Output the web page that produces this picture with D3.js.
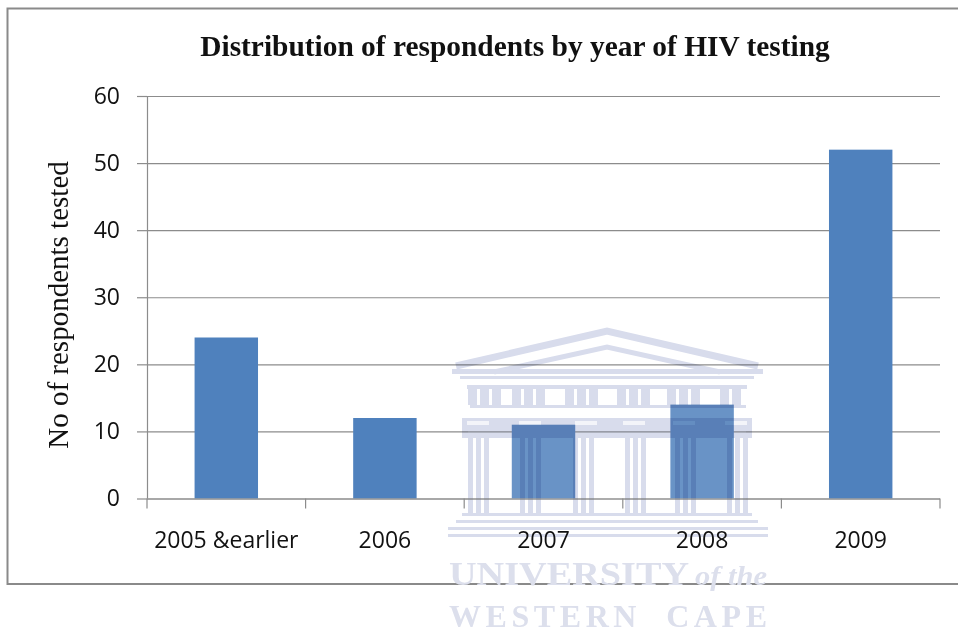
<!DOCTYPE html>
<html><head><meta charset="utf-8">
<script src="https://cdn.jsdelivr.net/npm/d3@7"></script>
<style>html,body{margin:0;background:#fff}svg{display:block}</style></head>
<body><svg id="c" width="958" height="633"></svg>
<script>
const categories = ["2005 &earlier","2006","2007","2008","2009"];
const values = [24,12,11,14,52];
const yTicks = [0,10,20,30,40,50,60];
const titleText = "Distribution of respondents by year of HIV testing";
const yTitle = "No of respondents tested";

const svg = d3.select("#c");
const L=147,R=940,T=96,B=498.5;
const x = d3.scaleBand().domain(categories).range([L,R]).paddingInner(0.6).paddingOuter(0.3);
const y = d3.scaleLinear().domain([0,60]).range([B,T]);
const gray="#8c8c8c", sans="'Open Sans',sans-serif", serif="'Liberation Serif',serif";

// frame
svg.append("path").attr("d","M958,8.5H7.5V584H958").attr("fill","none").attr("stroke","#8a8a8a").attr("stroke-width",2);

// axes
const gy = svg.append("g").attr("transform",`translate(${L},0)`)
  .call(d3.axisLeft(y).tickValues(yTicks).tickSize(10).tickPadding(17));
gy.selectAll("path").attr("stroke",gray).attr("stroke-width",1.2).attr("d",`M0.5,${T}V${B}`);
gy.selectAll("line").attr("stroke",gray).attr("stroke-width",1.2);
gy.selectAll(".tick").append("line").attr("x1",0).attr("x2",R-L).attr("stroke",gray).attr("stroke-width",1.2);
gy.selectAll("text").attr("fill","#111").style("font",`23px ${sans}`);

svg.append("g").selectAll("rect").data(values).join("rect")
  .attr("x",(d,i)=>x(categories[i])).attr("width",x.bandwidth())
  .attr("y",d=>y(d)).attr("height",d=>y(0)-y(d)).attr("fill","#4f81bd");

// watermark
const wm = svg.append("g");
const lav="#d8dcec";
const mult = wm.append("g").style("mix-blend-mode","multiply");
wm.insert("rect",":first-child").attr("x",468).attr("y",392).attr("width",278).attr("height",108).attr("fill","#fff").attr("opacity",0.15);
const rect=(a,b,w,h,f=lav)=>mult.append("rect").attr("x",a).attr("y",b).attr("width",w).attr("height",h).attr("fill",f);
mult.append("path").attr("d","M456,366L607,331L758,366").attr("fill","none").attr("stroke",lav).attr("stroke-width",7);
mult.append("path").attr("d","M494,372L607,347L720,372").attr("fill","none").attr("stroke",lav).attr("stroke-width",5);
rect(452,369,311,5); rect(460,376,294,3); rect(467,385,280,4);
// frieze
[[468,3],[512,3],[565,3],[617,3],[667,3],[720,2]].forEach(([a,n])=>d3.range(n).forEach(k=>rect(a+k*12,389,9,16)));
rect(470,405,276,3);
// beam with slots
rect(462,418,290,20);
[467,519,575,623,673,725].forEach(a=>rect(a,421,22,4,"#f3f4f9"));
// columns
[468,520,573,625,675,727].forEach(a=>[0,8,16].forEach(o=>rect(a+o,438,5,75)));
// steps
rect(462,513,290,3); rect(456,520,302,3); rect(448,527,320,3); rect(448,534,320,3);
const wt=(s,xx,yy,size,extra={})=>{const t=wm.append("text").attr("x",xx).attr("y",yy).attr("fill","#dcdfec")
  .attr("font-family",serif).attr("font-size",size).attr("font-weight","bold").text(s);Object.entries(extra).forEach(([k,v])=>t.attr(k,v));return t;};
wt("UNIVERSITY",449,585,33,{"textLength":240,"lengthAdjust":"spacingAndGlyphs"});
wt("of the",695,585,27,{"font-style":"italic","textLength":72,"lengthAdjust":"spacingAndGlyphs"});
wt("WESTERN  CAPE",449,627,32,{"textLength":318,"lengthAdjust":"spacing","xml:space":"preserve"});

// x axis ticks at the category boundaries
const bottom = d3.axisBottom(x).tickSize(0).tickPadding(33);
const gx = svg.append("g").attr("transform",`translate(0,${B})`).call(bottom);
gx.select("path").attr("stroke",gray).attr("stroke-width",1.2).attr("d",`M${L},0.5H${R}`);
gx.selectAll("text").attr("fill","#111").style("font",`23px ${sans}`);
gx.selectAll(".tb").data(d3.range(categories.length+1)).join("line").attr("class","tb")
  .attr("x1",i=>L+i*x.step()).attr("x2",i=>L+i*x.step()).attr("y1",0).attr("y2",10)
  .attr("stroke",gray).attr("stroke-width",1.2);

svg.append("text").attr("x",515).attr("y",56).attr("text-anchor","middle")
  .attr("font-family",serif).attr("font-weight","bold").attr("font-size",29.4).attr("fill","#111").text(titleText);
svg.append("text").attr("transform","translate(68,305) rotate(-90)").attr("text-anchor","middle")
  .attr("font-family",serif).attr("font-size",29).attr("fill","#111").text(yTitle);
</script></body></html>
